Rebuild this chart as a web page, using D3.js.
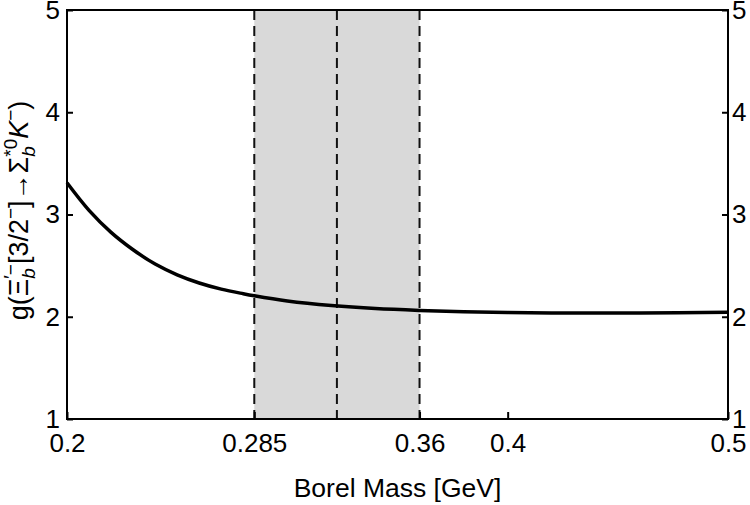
<!DOCTYPE html>
<html>
<head>
<meta charset="utf-8">
<script src="https://cdn.jsdelivr.net/npm/d3@7"></script>
<style>
  body { margin: 0; background: #fff; }
  text { font-family: "Liberation Sans", Arial, sans-serif; }
</style>
</head>
<body>
<div id="chart-area"></div>
<script>
// Data
const borelMass = [0.200, 0.210, 0.220, 0.230, 0.240, 0.250, 0.260, 0.270, 0.280, 0.285,
                   0.300, 0.320, 0.340, 0.360, 0.380, 0.400, 0.430, 0.460, 0.500];
const coupling  = [3.31, 3.04, 2.825, 2.655, 2.515, 2.41, 2.33, 2.27, 2.225, 2.205,
                   2.155, 2.11, 2.08, 2.062, 2.05, 2.042, 2.036, 2.037, 2.045];
const xTicks = [0.2, 0.285, 0.36, 0.4, 0.5];
const yTicks = [1, 2, 3, 4, 5];
const workingWindow = [0.285, 0.36];
const dashedLines = [0.285, 0.3225, 0.36];

// Margin
const margin = { left: 67, right: 22, top: 10, bottom: 86 };
const width = 750 - margin.left - margin.right;
const height = 505 - margin.top - margin.bottom;

const svg = d3.select('#chart-area')
    .append('svg')
        .attr('width', 750)
        .attr('height', 505);

const g = svg.append('g')
    .attr('transform', 'translate(' + margin.left + ', ' + margin.top + ')');

// Scales
const x = d3.scaleLinear().domain([0.2, 0.5]).range([0, width]);
const y = d3.scaleLinear().domain([1, 5]).range([height, 0]);

// Shaded Borel window
g.append('rect')
    .attr('x', x(workingWindow[0]))
    .attr('y', 0)
    .attr('width', x(workingWindow[1]) - x(workingWindow[0]))
    .attr('height', height)
    .attr('fill', '#d9d9d9');

// Dashed lines
g.selectAll('.vline')
    .data(dashedLines)
    .enter().append('line')
        .attr('class', 'vline')
        .attr('x1', d => x(d))
        .attr('x2', d => x(d))
        .attr('y1', 0)
        .attr('y2', height)
        .attr('stroke', '#111')
        .attr('stroke-width', 2)
        .attr('stroke-dasharray', '10,6');

// Curve
const line = d3.line()
    .x((d, i) => x(borelMass[i]))
    .y(d => y(d))
    .curve(d3.curveCatmullRom.alpha(0.5));

g.append('path')
    .datum(coupling)
    .attr('fill', 'none')
    .attr('stroke', '#000')
    .attr('stroke-width', 3.5)
    .attr('d', line);

// Axes
const fontSize = '26px';

const xAxisCall = d3.axisBottom(x)
    .tickValues(xTicks)
    .tickFormat(d => String(d))
    .tickSizeInner(-7)
    .tickSizeOuter(0)
    .tickPadding(15);
const xAxisGroup = g.append('g')
    .attr('transform', 'translate(0, ' + height + ')')
    .call(xAxisCall);

const yAxisLeft = d3.axisLeft(y)
    .tickValues(yTicks)
    .tickFormat(d3.format('d'))
    .tickSizeInner(-6)
    .tickSizeOuter(0)
    .tickPadding(7);
const yLeftGroup = g.append('g').call(yAxisLeft);

const yAxisRight = d3.axisRight(y)
    .tickValues(yTicks)
    .tickFormat(d3.format('d'))
    .tickSizeInner(-6)
    .tickSizeOuter(0)
    .tickPadding(4);
const yRightGroup = g.append('g')
    .attr('transform', 'translate(' + width + ', 0)')
    .call(yAxisRight);

[xAxisGroup, yLeftGroup, yRightGroup].forEach(ag => {
    ag.select('.domain').remove();
    ag.selectAll('.tick line').attr('stroke', '#000').attr('stroke-width', 2);
    ag.selectAll('.tick text')
        .attr('font-size', fontSize)
        .attr('font-family', '"Liberation Sans", Arial, sans-serif')
        .attr('fill', '#000');
});

// Frame
g.append('rect')
    .attr('width', width)
    .attr('height', height)
    .attr('fill', 'none')
    .attr('stroke', '#000')
    .attr('stroke-width', 2);

// X Label
g.append('text')
    .attr('x', width / 2)
    .attr('y', height + 78)
    .attr('font-size', '26.5px')
    .attr('text-anchor', 'middle')
    .text('Borel Mass [GeV]');

// Y Label
const yLabel = g.append('text')
    .attr('transform', 'translate(' + (-39) + ', ' + (height / 2 - 4) + ') rotate(-90)')
    .attr('font-size', '27px')
    .attr('text-anchor', 'middle');

const small = '19px';
// base + stacked sup/sub
function piece(base, sup, sub, italicBase) {
    if (base) {
        yLabel.append('tspan').text(base)
            .attr('font-style', italicBase ? 'italic' : null);
    }
    const supSpan = yLabel.append('tspan')
        .attr('font-size', small)
        .attr('dy', -11)
        .text(sup);
    if (sub) {
        const w = supSpan.node().getComputedTextLength();
        const subSpan = yLabel.append('tspan')
            .attr('font-size', small)
            .attr('font-style', 'italic')
            .attr('dx', -w)
            .attr('dy', 18)
            .text(sub);
        const ws = subSpan.node().getComputedTextLength();
        const back = Math.max(0, w - ws);
        yLabel.append('tspan').attr('dx', back).attr('dy', -7).text('\u200b');
    } else {
        yLabel.append('tspan').attr('dy', 11).text('\u200b');
    }
}
yLabel.append('tspan').text('g(');
piece('\u039E', '\u2032\u2212', 'b');
yLabel.append('tspan').text('[3/2');
piece('', '\u2212', null);
yLabel.append('tspan').text(']\u2192\u03A3');
piece('', '*0', 'b');
piece('K', '\u2212', null, true);
yLabel.append('tspan').text(')');
</script>
</body>
</html>
